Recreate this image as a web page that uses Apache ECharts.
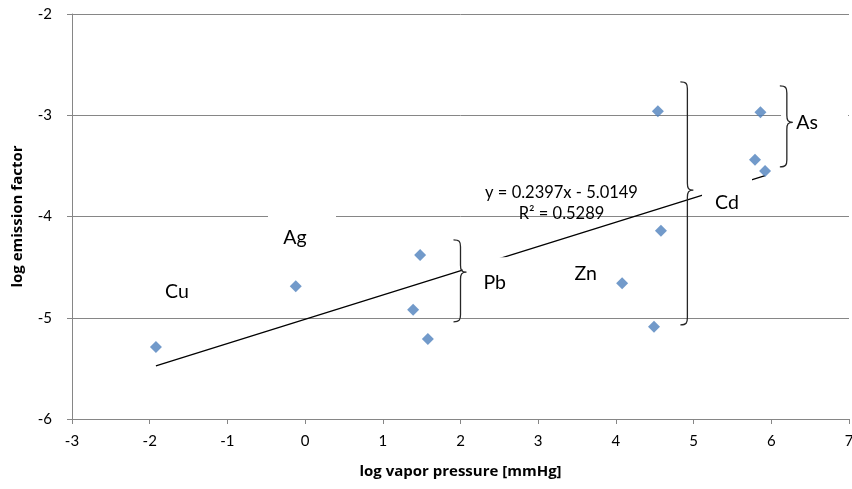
<!DOCTYPE html>
<html><head><meta charset="utf-8">
<script src="https://cdn.jsdelivr.net/npm/echarts@6/dist/echarts.min.js"></script>
<style>html,body{margin:0;padding:0;background:#fff}#c{width:852px;height:489px}</style>
</head><body><div id="c"></div>
<script>
// Data points (log vapor pressure, log emission factor)
const xValues = [-1.92, -0.12, 1.48, 1.39, 1.58, 4.08, 4.54, 4.58, 4.49, 5.86, 5.79, 5.92];
const yValues = [-5.29, -4.69, -4.38, -4.92, -5.21, -4.66, -2.96, -4.14, -5.09, -2.97, -3.44, -3.55];
// Trendline from the chart's equation
const slope = 0.2397;
const intercept = -5.0149;
const equationLines = ['y = 0.2397x - 5.0149', 'R\u00b2 = 0.5289'];
const equationAt = [3.30, -3.87];
// Element labels (data coordinates)
const elementNames = ['Cu', 'Ag', 'Pb', 'Zn', 'Cd', 'As'];
const elementLabelX = [-1.65, -0.13, 2.44, 3.61, 5.43, 6.46];
const elementLabelY = [-4.74, -4.21, -4.65, -4.57, -3.86, -3.07];
// Braces: spine x, top y, bottom y, tip y (data coordinates)
const braceX = [2.00, 4.92, 6.20];
const braceTop = [-4.23, -2.67, -2.71];
const braceBottom = [-5.04, -5.07, -3.51];
const braceTip = [-4.55, -3.74, -3.07];
// Axes
const xMin = -3, xMax = 7, yMin = -6, yMax = -2;
const xTitle = 'log vapor pressure [mmHg]';
const yTitle = 'log emission factor';

const points = xValues.map((x, i) => [x, yValues[i]]);
const lo = Math.min(...xValues), hi = Math.max(...xValues);
const trend = [[lo, slope * lo + intercept], [hi, slope * hi + intercept]];
const labelData = elementNames.map((n, i) => [elementLabelX[i], elementLabelY[i], n]);
const braceData = braceX.map((x, i) => [x, braceTop[i], braceBottom[i], braceTip[i]]);

// white text-box backgrounds (px relative to label centre): left, right, top, bottom
const boxes = { Ag: [-27, 41, -30, 18], Pb: [-32, 30, -25, 25], Cd: [-25, 25, -26, 10], As: [-26, 41, -30, 30] };
const FONT = 'Lato, "Open Sans", sans-serif';
const TITLE_FONT = '"Open Sans", Lato, sans-serif';

const chart = echarts.init(document.getElementById('c'));
chart.setOption({
  animation: false,
  grid: { left: 72, right: 3, top: 14, bottom: 70, outerBoundsMode: 'none', containLabel: false },
  xAxis: {
    type: 'value', min: xMin, max: xMax, interval: 1,
    name: xTitle, nameLocation: 'middle', nameGap: 45,
    nameTextStyle: { fontFamily: TITLE_FONT, fontWeight: 'bold', fontSize: 15, color: '#000' },
    axisLine: { show: true, onZero: false, lineStyle: { color: '#868686', width: 1 } },
    axisTick: { show: true, length: 5, lineStyle: { color: '#868686' } },
    axisLabel: { fontFamily: FONT, fontSize: 15, color: '#000', margin: 15 },
    splitLine: { show: false }
  },
  yAxis: {
    type: 'value', min: yMin, max: yMax, interval: 1,
    name: yTitle, nameLocation: 'middle', nameGap: 47, nameRotate: 90,
    nameTextStyle: { fontFamily: TITLE_FONT, fontWeight: 'bold', fontSize: 15, color: '#000' },
    axisLine: { show: true, onZero: false, lineStyle: { color: '#868686', width: 1 } },
    axisTick: { show: true, length: 5, lineStyle: { color: '#868686' } },
    axisLabel: { fontFamily: FONT, fontSize: 15, color: '#000', margin: 20 },
    splitLine: { show: true, lineStyle: { color: '#868686', width: 1 } }
  },
  series: [
    {
      type: 'line', data: trend, symbol: 'none', z: 2, silent: true,
      lineStyle: { color: '#000', width: 1.2 }
    },
    {
      type: 'custom', z: 3, silent: true, clip: false,
      data: labelData,
      renderItem: function (params, api) {
        const p = api.coord([api.value(0), api.value(1)]);
        const name = elementNames[params.dataIndex];
        const b = boxes[name];
        const children = [];
        if (b) children.push({ type: 'rect', shape: { x: p[0] + b[0], y: p[1] + b[2], width: b[1] - b[0], height: b[3] - b[2] }, style: { fill: '#fff' } });
        children.push({ type: 'text', style: { text: name, x: p[0], y: p[1], align: 'center', verticalAlign: 'middle', font: '19.5px ' + FONT, fill: '#000' } });
        return { type: 'group', children: children };
      }
    },
    {
      type: 'custom', z: 4, silent: true, clip: false,
      data: braceData,
      renderItem: function (params, api) {
        const s = api.coord([api.value(0), api.value(1)]);
        const xs = s[0], yT = s[1];
        const yB = api.coord([api.value(0), api.value(2)])[1];
        const yM = api.coord([api.value(0), api.value(3)])[1];
        const w = 7, t = 6, r = 7;
        const d = 'M' + (xs - w) + ' ' + yT +
          ' C' + (xs - 1) + ' ' + yT + ' ' + xs + ' ' + (yT + 2) + ' ' + xs + ' ' + (yT + r) +
          ' L' + xs + ' ' + (yM - r) +
          ' C' + xs + ' ' + (yM - 2) + ' ' + (xs + 1) + ' ' + yM + ' ' + (xs + t) + ' ' + yM +
          ' C' + (xs + 1) + ' ' + yM + ' ' + xs + ' ' + (yM + 2) + ' ' + xs + ' ' + (yM + r) +
          ' L' + xs + ' ' + (yB - r) +
          ' C' + xs + ' ' + (yB - 2) + ' ' + (xs - 1) + ' ' + yB + ' ' + (xs - w) + ' ' + yB;
        return { type: 'path', shape: { pathData: d }, style: { fill: 'none', stroke: '#262626', lineWidth: 1.3 } };
      }
    },
    {
      type: 'scatter', data: points, z: 5, symbol: 'diamond', symbolSize: [12, 12],
      itemStyle: { color: '#4F81BD' }
    },
    {
      type: 'custom', z: 6, silent: true, clip: false,
      data: [equationAt],
      renderItem: function (params, api) {
        const p = api.coord([api.value(0), api.value(1)]);
        return { type: 'text', style: { text: equationLines.join('\n'), x: p[0], y: p[1], align: 'center', verticalAlign: 'middle', lineHeight: 21, font: '16.5px ' + FONT, fill: '#000' } };
      }
    }
  ]
});
</script>
</body></html>
